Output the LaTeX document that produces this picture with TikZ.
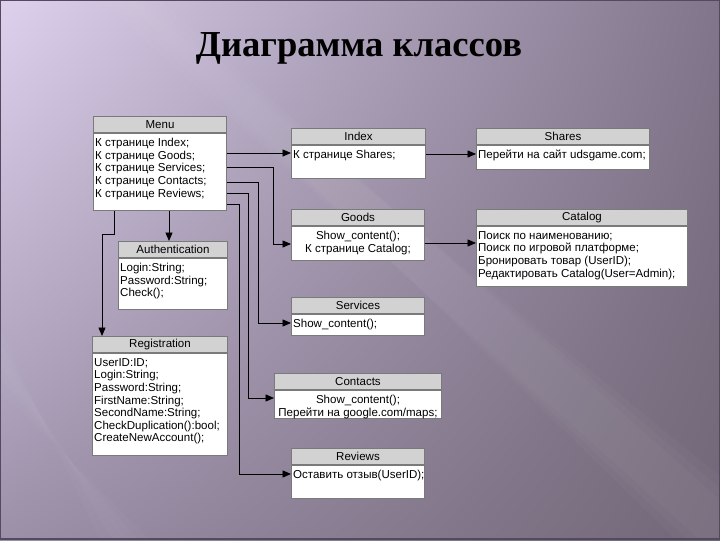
\documentclass[tikz,border=0pt]{standalone}
\usepackage{fontspec}
\setmainfont{Liberation Serif}
\newfontfamily\arialfont{Liberation Sans}
\usetikzlibrary{calc,arrows.meta,shadings}
\definecolor{bgul}{HTML}{DDD1EE}
\definecolor{bgur}{HTML}{80758A}
\definecolor{bgll}{HTML}{9C90A9}
\definecolor{bglr}{HTML}{726777}
\definecolor{frame}{HTML}{544A60}
\definecolor{boxgray}{HTML}{7A7A7A}
\definecolor{headgray}{HTML}{D2D2D2}
\newlength\upx
\setlength\upx{0.025cm}
\newcommand{\boxfont}{\arialfont\fontsize{8.2}{9}\selectfont}
\tikzset{
  clshead/.style={draw=boxgray, fill=headgray, line width=0.7pt, inner sep=0pt, anchor=north west, font=\boxfont},
  clsbody/.style={draw=boxgray, fill=white, line width=0.7pt, inner sep=0pt, anchor=north west, font=\boxfont},
  link/.style={-{Triangle[length=6pt,width=5pt]}, line width=0.6pt, black},
  streak/.style={white, opacity=0.025},
}
% #1 name, #2 top left, #3 width, #4 head height, #5 body height, #6 title, #7 align, #8 lines
\newcommand{\umlclass}[8]{%
  \node[clshead, minimum width={#3*0.025cm}, minimum height={#4*0.025cm}] (#1h) at #2 {#6};
  \node[clsbody] (#1) at (#1h.south west) {\parbox[c][#5\upx][t]{#3\upx}{\vskip3.3pt#7#8}};
}
\newcommand{\lft}{\raggedright\leftskip1.2pt\relax}

\begin{document}
\begin{tikzpicture}[x=0.025cm, y=-0.025cm]
  \useasboundingbox (0,0) rectangle (720,540);
  \shade[upper left=bgul, upper right=bgur, lower left=bgll, lower right=bglr] (0,0) rectangle (720,540);
  % soft light streaks
  \foreach \w in {0,12,24} {
    \fill[streak] (100+\w,0) -- (160-\w,0) -- (720,500-\w) -- (720,540) -- (700-\w,540) -- cycle;
    \fill[streak] (0,330+\w) -- (0,390-\w) -- (150-\w,540) -- (100+\w,540) -- cycle;
  }
  \draw[frame, line width=1.2pt] (0.5,0.5) rectangle (719.5,539);

  \node[font=\fontsize{26}{30}\selectfont\bfseries, anchor=base] (title) at (359,56) {Диаграмма классов};

  \umlclass{menu}{(93,116)}{133}{16}{77}{Menu}{\lft}{К странице Index;\\К странице Goods;\\К странице Services;\\К странице Contacts;\\К странице Reviews;}
  \umlclass{index}{(291,128)}{134}{16}{33}{Index}{\lft}{К странице Shares;}
  \umlclass{shares}{(476,128)}{173}{16}{24}{Shares}{\lft}{Перейти на сайт udsgame.com;}
  \umlclass{goods}{(291,209)}{133}{16}{34}{Goods}{\centering}{Show\_content();\\К странице Catalog;}
  \umlclass{catalog}{(476,209)}{211}{16}{60}{Catalog}{\lft}{Поиск по наименованию;\\Поиск по игровой платформе;\\Бронировать товар (UserID);\\Редактировать Catalog(User=Admin);}
  \umlclass{auth}{(118,241)}{109}{16}{51}{Authentication}{\lft}{Login:String;\\Password:String;\\Check();}
  \umlclass{reg}{(92,336)}{135}{16}{102}{Registration}{\lft}{UserID:ID;\\Login:String;\\Password:String;\\FirstName:String;\\SecondName:String;\\CheckDuplication():bool;\\CreateNewAccount();}
  \umlclass{services}{(291,297)}{133}{16}{21}{Services}{\lft}{Show\_content();}
  \umlclass{contacts}{(274,373)}{167}{16}{28}{Contacts}{\centering}{Show\_content();\\Перейти на google.com/maps;}
  \umlclass{reviews}{(291,448)}{133}{16}{33}{Reviews}{\lft}{Оставить отзыв(UserID);}

  \coordinate (m1) at ($(menu.north east)+(0,20)$);
  \coordinate (m2) at ($(menu.north east)+(0,34)$);
  \coordinate (m3) at ($(menu.north east)+(0,49)$);
  \coordinate (m4) at ($(menu.north east)+(0,60)$);
  \coordinate (m5) at ($(menu.north east)+(0,71)$);
  \coordinate (m6) at ($(menu.south west)+(76,0)$);
  \coordinate (m7) at ($(menu.south west)+(21,0)$);
  \coordinate (i1) at ($(index.north east)+(0,9)$);
  \coordinate (g1) at ($(goods.north east)+(0,17)$);

  \draw[link] (m1) -- (m1 -| index.west);
  \draw[link] (i1) -- (i1 -| shares.west);
  \draw[link] (g1) -- (g1 -| catalog.west);
  \draw[link] (m2) -- ++(46,0) |- ($(goods.north west)+(0,18)$);
  \draw[link] (m3) -- ++(31,0) |- ($(services.north west)+(0,9)$);
  \draw[link] (m4) -- ++(21,0) |- ($(contacts.north west)+(0,8)$);
  \draw[link] (m5) -- ++(12,0) |- ($(reviews.north west)+(0,9)$);
  \draw[link] (m6) -- (m6 |- authh.north);
  \draw[link] (m7) -- ++(0,23) -| ($(regh.north west)+(10,0)$);
\end{tikzpicture}
\end{document}
